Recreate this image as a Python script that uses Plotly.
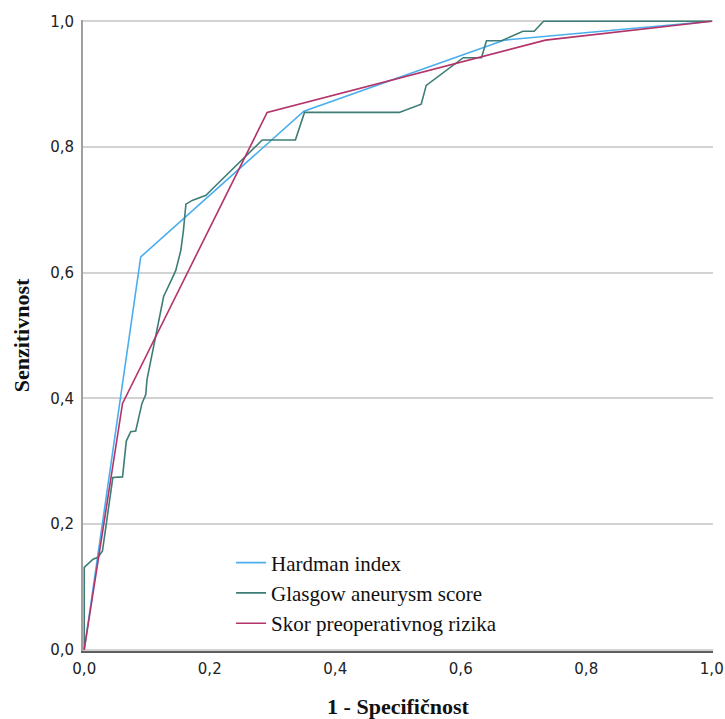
import plotly.graph_objects as go

# ROC curve data (1 - specificity, sensitivity)
hardman_x = [0.0, 0.09, 0.35, 0.67, 1.0]
hardman_y = [0.0, 0.625, 0.857, 0.97, 1.0]

glasgow_x = [0.0, 0.0, 0.014, 0.022, 0.029, 0.0455, 0.061, 0.067, 0.074, 0.082, 0.092, 0.098,
             0.1, 0.1265, 0.141, 0.146, 0.154, 0.158, 0.162, 0.172, 0.194, 0.204, 0.2836,
             0.3365, 0.351, 0.502, 0.537, 0.545, 0.604, 0.633, 0.641, 0.665, 0.699, 0.717,
             0.732, 1.0]
glasgow_y = [0.0, 0.131, 0.144, 0.147, 0.157, 0.274, 0.275, 0.332, 0.347, 0.348, 0.392, 0.406,
             0.43, 0.562, 0.593, 0.604, 0.636, 0.667, 0.709, 0.715, 0.723, 0.733, 0.811,
             0.811, 0.855, 0.855, 0.868, 0.898, 0.942, 0.942, 0.969, 0.969, 0.984, 0.984,
             1.0, 1.0]

skor_x = [0.0, 0.061, 0.2915, 0.735, 1.0]
skor_y = [0.0, 0.392, 0.855, 0.97, 1.0]

series_names = ["Hardman index", "Glasgow aneurysm score", "Skor preoperativnog rizika"]
series_colors = ["#4aaeee", "#3d7d76", "#b3336a"]

tick_vals = [0.0, 0.2, 0.4, 0.6, 0.8, 1.0]
tick_text = ["0,0", "0,2", "0,4", "0,6", "0,8", "1,0"]

fig = go.Figure()
for name, xs, ys, col in zip(series_names,
                             [hardman_x, glasgow_x, skor_x],
                             [hardman_y, glasgow_y, skor_y],
                             series_colors):
    fig.add_trace(go.Scatter(x=xs, y=ys, mode="lines", name=name,
                             line=dict(color=col, width=1.6)))

fig.update_layout(
    width=725, height=719,
    margin=dict(l=83, r=12, t=20, b=68, autoexpand=False),
    plot_bgcolor="white", paper_bgcolor="white",
    showlegend=True,
    legend=dict(x=0.235, y=0.172, xanchor="left", yanchor="top",
                font=dict(family="Liberation Serif", size=21, color="#111"),
                bgcolor="rgba(0,0,0,0)", tracegroupgap=0, itemwidth=30),
)
fig.update_xaxes(
    range=[-0.002, 1.002], tickvals=tick_vals, ticktext=tick_text,
    showgrid=False, zeroline=False, showline=True, linecolor="#5e5e5e", linewidth=1.5,
    ticks="outside", ticklen=3, tickcolor="rgba(0,0,0,0)",
    tickfont=dict(family="DejaVu Sans", size=15, color="#222"),
    title=dict(text="<b>1 - Specifičnost</b>", standoff=22,
               font=dict(family="Liberation Serif", size=22, color="#111")),
)
fig.update_yaxes(
    range=[-0.002, 1.002], tickvals=tick_vals, ticktext=tick_text,
    showgrid=True, gridcolor="#d2d2d2", gridwidth=1.5,
    zeroline=False, showline=True, linecolor="#a0a0a0", linewidth=2,
    ticks="outside", ticklen=4, tickcolor="rgba(0,0,0,0)",
    tickfont=dict(family="DejaVu Sans", size=15, color="#222"),
    title=dict(text="<b>Senzitivnost</b>", standoff=14,
               font=dict(family="Liberation Serif", size=22, color="#111")),
)

fig.write_html("out.html")
